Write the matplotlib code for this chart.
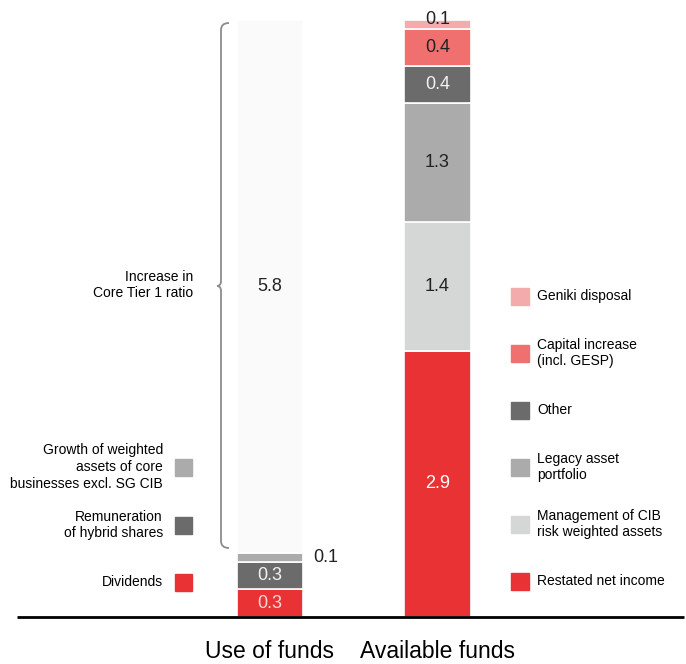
import matplotlib.pyplot as plt
from matplotlib.path import Path
from matplotlib.patches import PathPatch

plt.rcParams['font.family'] = ['Liberation Sans', 'DejaVu Sans']

categories = ['Use of funds', 'Available funds']

use_labels = ['Dividends', 'Remuneration\nof hybrid shares',
              'Growth of weighted\nassets of core\nbusinesses excl. SG CIB',
              'Increase in\nCore Tier 1 ratio']
use_values = [0.3, 0.3, 0.1, 5.8]
use_colors = ['#E83233', '#6B6B6B', '#ABABAB', '#FAFAFA']
use_text = ['#F8D8D8', '#F2F2F2', '#222222', '#222222']

avail_labels = ['Restated net income', 'Management of CIB\nrisk weighted assets',
                'Legacy asset\nportfolio', 'Other', 'Capital increase\n(incl. GESP)',
                'Geniki disposal']
avail_values = [2.9, 1.4, 1.3, 0.4, 0.4, 0.1]
avail_colors = ['#E83233', '#D5D6D6', '#ABABAB', '#6B6B6B', '#F07070', '#F4ABAB']
avail_text = ['#FFFFFF', '#222222', '#222222', '#F2F2F2', '#222222', '#222222']

W, H = 686, 664
fig = plt.figure(figsize=(W / 100, H / 100), dpi=100)
ax = fig.add_axes([0, 0, 1, 1])
ax.axis('off')

# pixel layout: baseline at y=617, total 6.5 reaches y=20
unit = (617 - 20) / 6.5
ax.set_ylim(-(H - 617) / unit, 6.5 + 20 / unit)
gap = 168.0
ax.set_xlim(-269.5 / gap, 1 + (W - 437.5) / gap)
bw = 66 / gap


def px(x, y):
    return (x / W, 1 - y / H)


# use of funds
bottom = 0
for i, (v, c) in enumerate(zip(use_values, use_colors)):
    ax.bar(0, v, bottom=bottom, width=bw, color=c, edgecolor='white', linewidth=1.2)
    if i == 2:
        ax.text(0 + bw / 2 + 0.065, bottom + v / 2, f'{v}', ha='left', va='center',
                fontsize=13, color='#222222')
    else:
        ax.text(0, bottom + v / 2, f'{v}', ha='center', va='center',
                fontsize=13, color=use_text[i])
    bottom += v

# available funds
bottom = 0
for i, (v, c) in enumerate(zip(avail_values, avail_colors)):
    ax.bar(1, v, bottom=bottom, width=bw * 67 / 66, color=c, edgecolor='white', linewidth=1.2)
    yy = bottom + v / 2 if i < 5 else bottom + v / 2 + 0.06
    ax.text(1, yy, f'{v}', ha='center', va='center', fontsize=13, color=avail_text[i])
    bottom += v

# baseline
ax.plot([-269.5 / gap + 17 / gap, 1 + (684 - 437.5) / gap], [0, 0], color='black', lw=2,
        solid_capstyle='butt')

# category labels
for i, name in enumerate(categories):
    ax.text(i, -(652 - 617) / unit, name, ha='center', va='center', fontsize=16.5)

# left legend
left_y = [582, 525, 467]
for i in range(3):
    fig.patches.append(plt.Rectangle(px(175, left_y[i] + 9), 17 / W, 17 / H,
                                     transform=fig.transFigure, color=use_colors[i]))
    fig.text(*px(163, left_y[i]), use_labels[i], ha='right', va='center',
             fontsize=10, linespacing=1.25)
fig.text(*px(193, 285), use_labels[3], ha='right', va='center', fontsize=10,
         linespacing=1.25)

# right legend
right_y = [581, 524, 467, 410, 353, 296]
for i in range(6):
    fig.patches.append(plt.Rectangle(px(511, right_y[i] + 9), 18 / W, 17 / H,
                                     transform=fig.transFigure, color=avail_colors[i]))
    fig.text(*px(537, right_y[i]), avail_labels[i], ha='left', va='center',
             fontsize=10, linespacing=1.25)

# brace next to the core tier 1 segment
verts = [px(229, 23), px(221, 23), px(221, 30), px(221, 281),
         px(221, 286), px(217, 286), px(217, 286), px(221, 286), px(221, 291),
         px(221, 541), px(221, 548), px(229, 548)]
codes = [Path.MOVETO, Path.CURVE3, Path.CURVE3, Path.LINETO,
         Path.CURVE3, Path.CURVE3, Path.MOVETO, Path.CURVE3, Path.CURVE3,
         Path.LINETO, Path.CURVE3, Path.CURVE3]
fig.patches.append(PathPatch(Path(verts, codes), transform=fig.transFigure,
                             fill=False, edgecolor='#8C8C8C', lw=1.3))

fig.savefig('out.png', dpi=100)
